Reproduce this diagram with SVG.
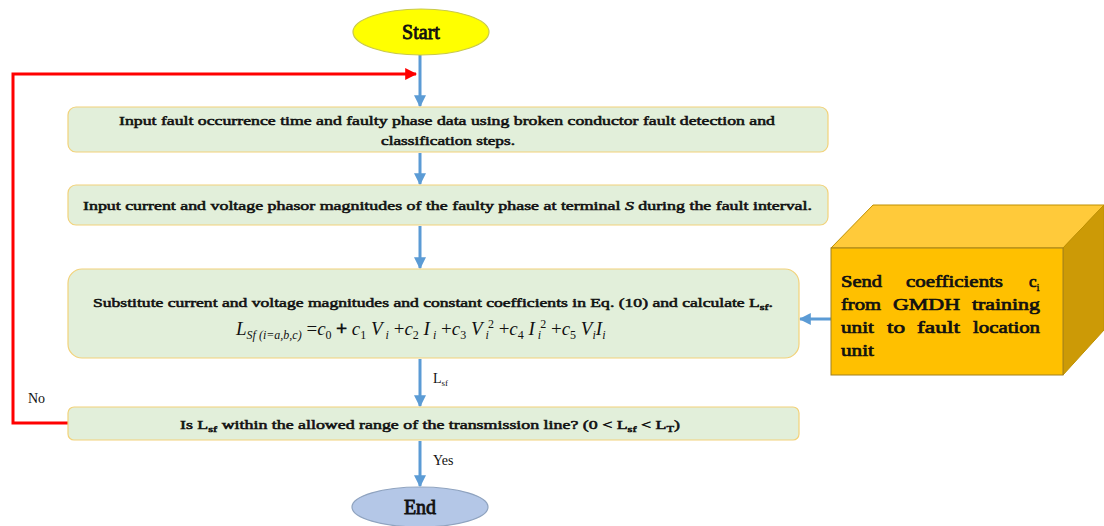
<svg xmlns="http://www.w3.org/2000/svg" width="1104" height="526" viewBox="0 0 1104 526">
<defs>
<style>
.box{fill:#E2EFDA;stroke:#F2D27A;stroke-width:1.2}
.t{font-family:"Liberation Serif","Times New Roman",serif;font-size:13px;fill:#111;stroke:#111;stroke-width:0.55}
.lbl{font-family:"Liberation Serif","Times New Roman",serif;font-size:14px;fill:#111}
.blue{stroke:#5B9BD5;stroke-width:3;fill:none}
.red{stroke:#FF0000;stroke-width:3;fill:none}
.eq{font-family:"Liberation Serif","Times New Roman",serif;font-style:italic;font-size:19px;fill:#111}
.s{font-size:12px}
.bt{font-family:"Liberation Serif","Times New Roman",serif;font-size:17px;fill:#111;stroke:#111;stroke-width:0.7}
.big{font-family:"Liberation Serif","Times New Roman",serif;font-size:20px;fill:#111;stroke:#111;stroke-width:0.8}
</style>
<marker id="ab" viewBox="0 0 10 10" refX="9" refY="5" markerWidth="4" markerHeight="4" orient="auto"><path d="M0,0 L10,5 L0,10 z" fill="#5B9BD5"/></marker>
<marker id="ar" viewBox="0 0 10 10" refX="9" refY="5" markerWidth="4" markerHeight="4" orient="auto"><path d="M0,0 L10,5 L0,10 z" fill="#FF0000"/></marker>
</defs>
<g id="connectors">
<path class="blue" d="M420,55 V106" marker-end="url(#ab)"/>
<path class="blue" d="M420,153 V184" marker-end="url(#ab)"/>
<path class="blue" d="M420,226 V268" marker-end="url(#ab)"/>
<path class="blue" d="M420,359 V406" marker-end="url(#ab)"/>
<path class="blue" d="M420,441 V486" marker-end="url(#ab)"/>
<path class="blue" d="M831,319 H800" marker-end="url(#ab)"/>
<path class="red" d="M68,423 H13 V74 H416" marker-end="url(#ar)"/>
<text class="lbl" x="28" y="403">No</text>
<text class="lbl" x="433" y="383">L<tspan font-size="9" dy="3">sf</tspan></text>
<text class="lbl" x="433" y="465">Yes</text>
</g>
<g id="start">
<ellipse cx="421" cy="32" rx="68" ry="23" fill="#FFFF00" stroke="#C9C94A" stroke-width="1.2"/>
<text class="big" x="421" y="39" text-anchor="middle">Start</text>
</g>
<g id="box1">
<rect class="box" x="68" y="107" width="760" height="45" rx="8"/>
<text class="t" x="119" y="125" textLength="656" lengthAdjust="spacingAndGlyphs">Input  fault occurrence time and  faulty  phase  data  using broken conductor fault detection and</text>
<text class="t" x="448" y="145" text-anchor="middle" textLength="134" lengthAdjust="spacingAndGlyphs">classification steps.</text>
</g>
<g id="box2">
<rect class="box" x="68" y="185" width="760" height="40" rx="8"/>
<text class="t" x="83" y="210" textLength="729" lengthAdjust="spacingAndGlyphs">Input  current and voltage phasor magnitudes of the faulty phase at terminal <tspan font-style="italic">S</tspan> during the fault interval.</text>
</g>
<g id="box3">
<rect class="box" x="68" y="269" width="731" height="89" rx="14"/>
<text class="t" x="93" y="307" textLength="680" lengthAdjust="spacingAndGlyphs">Substitute current and voltage magnitudes and  constant coefficients in Eq. (10) and calculate L<tspan font-size="9" dy="3">sf</tspan><tspan dy="-3">.</tspan></text>
<text class="eq" x="236" y="335">L<tspan class="s" dy="4">Sf (i=a,b,c)</tspan><tspan dy="-4" font-style="normal"> =</tspan>c<tspan class="s" dy="4" font-style="normal">0</tspan><tspan dy="-4" font-style="normal" stroke="#111" stroke-width="0.8"> + </tspan>c<tspan class="s" dy="4" font-style="normal">1</tspan><tspan dy="-4"> V</tspan><tspan class="s" dy="4"> i</tspan><tspan dy="-4" font-style="normal"> +</tspan>c<tspan class="s" dy="4" font-style="normal">2</tspan><tspan dy="-4"> I</tspan><tspan class="s" dy="4"> i</tspan><tspan dy="-4" font-style="normal"> +</tspan>c<tspan class="s" dy="4" font-style="normal">3</tspan><tspan dy="-4"> V</tspan><tspan class="s" dy="4"> i</tspan><tspan class="s" dx="-1" dy="-11" font-style="normal">2</tspan><tspan dy="7" font-style="normal"> +</tspan>c<tspan class="s" dy="4" font-style="normal">4</tspan><tspan dy="-4">  I</tspan><tspan class="s" dy="4"> i</tspan><tspan class="s" dx="-1" dy="-11" font-style="normal">2</tspan><tspan dy="7" font-style="normal"> +</tspan>c<tspan class="s" dy="4" font-style="normal">5</tspan><tspan dy="-4"> V</tspan><tspan class="s" dy="4">i</tspan><tspan dy="-4">I</tspan><tspan class="s" dy="4">i</tspan></text>
</g>
<g id="box4">
<rect class="box" x="68" y="407" width="731" height="33" rx="6"/>
<text class="t" x="180" y="429" textLength="500" lengthAdjust="spacingAndGlyphs">Is L<tspan font-size="9" dy="3">sf</tspan><tspan dy="-3"> within the allowed range of the transmission line? (0 &lt; L</tspan><tspan font-size="9" dy="3">sf</tspan><tspan dy="-3"> &lt; L</tspan><tspan font-size="9" dy="3">T</tspan><tspan dy="-3">)</tspan></text>
</g>
<g id="end">
<ellipse cx="420" cy="507" rx="68" ry="20" fill="#B4C7E7" stroke="#8FA3BF" stroke-width="1.2"/>
<text class="big" x="420" y="514" text-anchor="middle">End</text>
</g>
<g id="gmdh">
<polygon points="831,248 873,205 1104,205 1063,248" fill="#FFCA3A" stroke="#BF9000" stroke-width="1"/>
<polygon points="1063,248 1104,205 1104,330 1063,375" fill="#CC9A06" stroke="#BF9000" stroke-width="1"/>
<rect x="831" y="248" width="232" height="127" fill="#FFC000" stroke="#A08020" stroke-width="1"/>
<text class="bt" x="841" y="287" textLength="41" lengthAdjust="spacingAndGlyphs">Send</text>
<text class="bt" x="906" y="287" textLength="97" lengthAdjust="spacingAndGlyphs">coefficients</text>
<text class="bt" x="1029" y="287">c<tspan font-size="11" dy="4" stroke-width="0.4">i</tspan></text>
<text class="bt" x="841" y="310" textLength="40" lengthAdjust="spacingAndGlyphs">from</text>
<text class="bt" x="893" y="310" textLength="67" lengthAdjust="spacingAndGlyphs">GMDH</text>
<text class="bt" x="972" y="310" textLength="68" lengthAdjust="spacingAndGlyphs">training</text>
<text class="bt" x="841" y="333" textLength="33" lengthAdjust="spacingAndGlyphs">unit</text>
<text class="bt" x="887" y="333" textLength="18" lengthAdjust="spacingAndGlyphs">to</text>
<text class="bt" x="917" y="333" textLength="43" lengthAdjust="spacingAndGlyphs">fault</text>
<text class="bt" x="973" y="333" textLength="67" lengthAdjust="spacingAndGlyphs">location</text>
<text class="bt" x="841" y="356" textLength="33" lengthAdjust="spacingAndGlyphs">unit</text>
</g>
</svg>
